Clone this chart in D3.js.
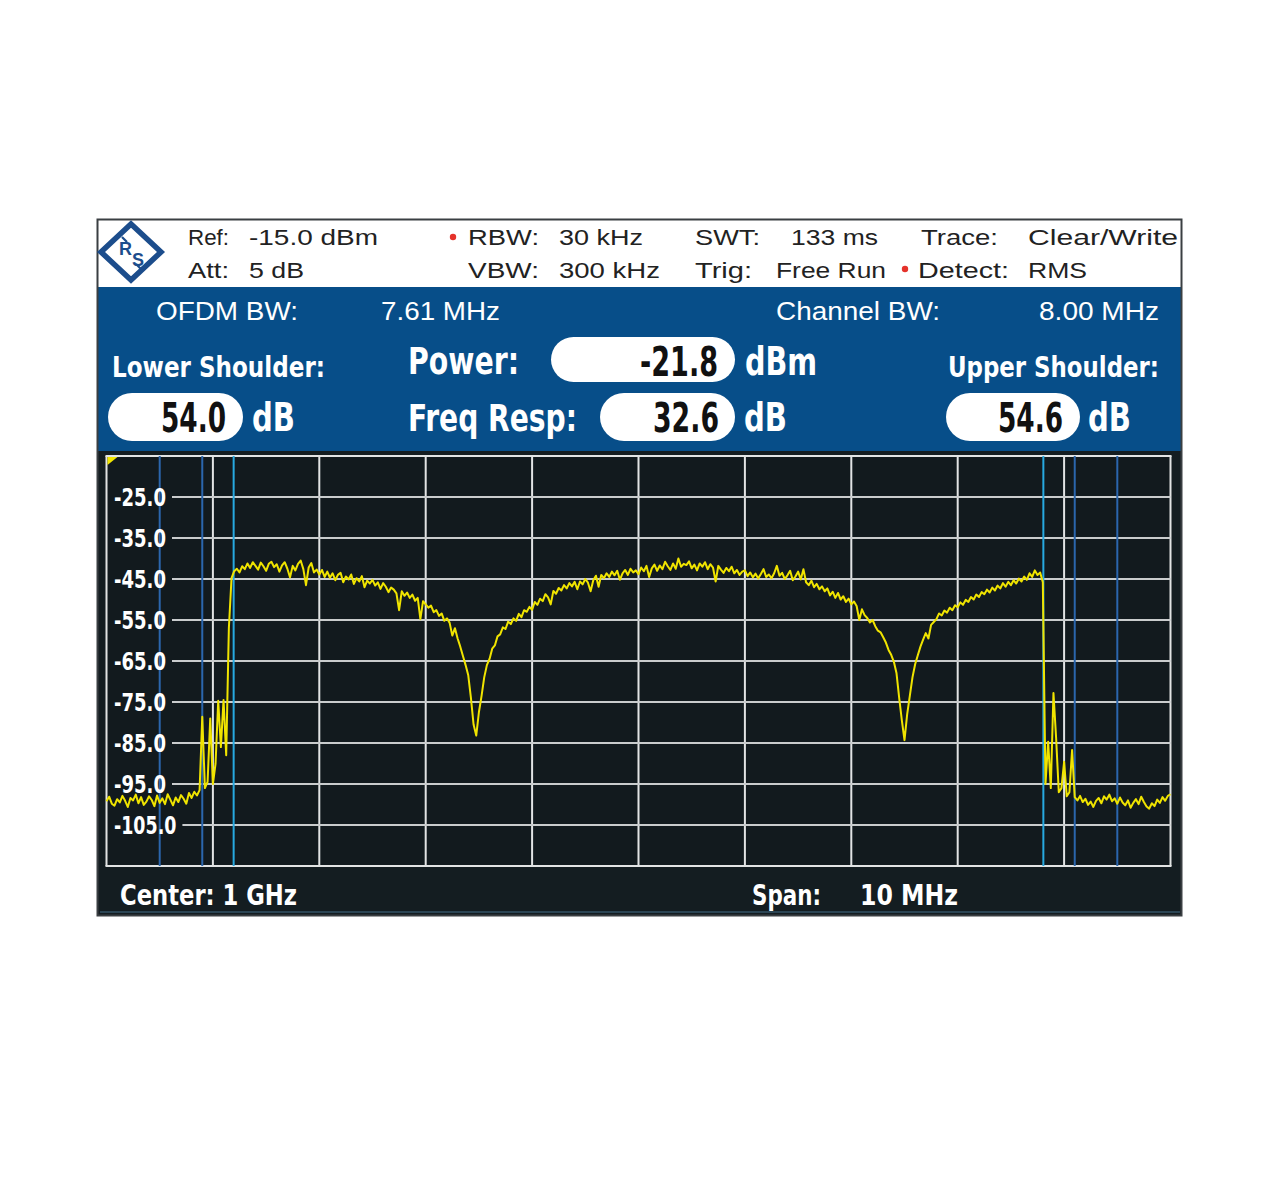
<!DOCTYPE html>
<html><head><meta charset="utf-8">
<script src="https://cdn.jsdelivr.net/npm/d3@7"></script>
<style>html,body{margin:0;padding:0;background:#fff;} svg{display:block;}</style>
</head><body>
<svg id="c" width="1280" height="1190"></svg>
<script>
// ---------------- data ----------------
const headerRow1 = ["Ref:", "-15.0 dBm", "RBW:", "30 kHz", "SWT:", "133 ms", "Trace:", "Clear/Write"];
const headerRow2 = ["Att:", "5 dB", "VBW:", "300 kHz", "Trig:", "Free Run", "Detect:", "RMS"];
const infoLabels = ["OFDM BW:", "7.61 MHz", "Channel BW:", "8.00 MHz"];
const resultLabels = ["Lower Shoulder:", "Power:", "Freq Resp:", "Upper Shoulder:"];
const resultValues = [54.0, -21.8, 32.6, 54.6];
const resultUnits = ["dB", "dBm", "dB", "dB"];
const footerLabels = ["Center: 1 GHz", "Span:", "10 MHz"];
const yTicks = [-25, -35, -45, -55, -65, -75, -85, -95, -105];
const yRange = [-115, -15];
const xDivisionsMHz = [-5, -4, -3, -2, -1, 0, 1, 2, 3, 4, 5];
const markerOffsetsMHz = [-4.5, -4.1, -3.805, 3.805, 4.1, 4.5];
const markerKinds = ["limit", "limit", "channel", "channel", "limit", "limit"];
const traceStartMHz = -5, traceStopMHz = 5;
const traceLevels = [
 -99.2,-98.1,-99.8,-100.3,-98.7,-99.5,-97.9,-99.1,-100.6,-98.4,
 -99.0,-97.6,-99.7,-98.2,-100.1,-99.3,-98.0,-98.9,-100.4,-97.8,
 -99.6,-98.5,-99.9,-97.5,-98.8,-100.2,-98.3,-99.4,-97.7,-98.6,
 -99.8,-97.2,-98.4,-96.9,-97.8,
 -96.5,-78.6,-96.0,-94.5,-79.0,-95.0,-90.0,-74.7,-86.0,-74.5,-88.0,-57.0,
 -44.8,-43.1,-42.5,-43.4,-41.9,-42.6,-41.2,-42.3,-40.9,-41.8,
 -42.7,-41.0,-41.9,-43.0,-41.3,-40.8,-42.1,-41.4,-43.2,-41.7,
 -40.9,-42.5,-44.6,-41.8,-42.9,-41.3,-40.5,-42.6,-46.5,-42.2,
 -41.1,-43.4,-42.7,-43.9,-42.8,-44.5,-43.2,-44.7,-43.6,-45.3,
 -44.0,-43.5,-45.8,-44.4,-45.1,-43.9,-46.2,-44.8,-45.6,-44.3,
 -47.0,-45.4,-46.1,
 -45.2,-46.6,-45.8,-47.4,-46.0,-46.9,-48.2,-47.1,-47.6,-48.5,
 -52.6,-48.0,-49.1,-48.3,-49.6,-48.8,-50.3,-49.6,-54.8,-50.4,
 -51.2,-52.0,-51.5,-53.1,-52.6,-54.0,-53.4,-55.2,-54.6,-55.7,
 -58.8,-57.0,-59.5,-61.5,-63.8,-66.0,-68.5,-74.0,-80.5,-83.2,
 -77.5,-73.5,-69.0,-66.0,-64.5,-62.0,-61.2,-59.0,-58.5,-56.8,
 -57.2,-55.4,-56.0,-54.6,-55.2,-53.5,-54.3,-52.6,-53.0,-51.8,
 -52.5,-50.6,-51.3,-49.8,-50.4,-48.7,-49.5,-51.2,-47.9,-48.6,
 -47.2,-47.8,-46.5,-47.3,-46.0,-46.8,-45.7,-47.5,-45.6,-46.3,
 -45.0,-45.9,-48.0,-45.3,-44.2,-46.9,-44.0,-44.8,-43.6,-44.5,
 -43.2,-44.1,-43.0,-45.2,-43.6,-42.8,-44.0,-42.5,-43.4,-42.9,
 -43.8,-42.2,-43.1,-41.8,-44.5,-42.4,-41.5,-43.0,-41.7,-42.6,
 -40.8,-41.9,-42.8,-41.2,-42.5,-40.0,-42.0,-41.3,-41.6,-40.7,
 -42.4,-41.5,-42.9,-41.2,-42.0,-40.9,-42.6,-41.4,-42.2,-45.6,
 -41.8,-42.7,-43.5,-42.3,-43.1,-42.0,-43.6,-42.8,-44.0,-43.2,
 -42.9,-44.3,-43.4,-44.6,-43.7,-44.9,-43.8,-42.6,-44.5,-43.9,
 -44.8,-43.6,-41.8,-44.2,-43.5,-45.0,-44.1,-43.0,-45.3,-44.4,
 -43.2,-45.1,-42.6,-45.8,-46.5,-45.4,-47.0,-46.2,-47.5,-46.8,
 -48.0,-47.3,-49.0,-48.1,-49.6,-48.4,-50.0,-49.2,-50.6,-49.8,
 -51.2,-50.5,-51.6,-55.0,-52.4,-53.8,-54.5,-55.6,-55.0,-56.5,
 -57.6,-58.0,-59.2,-60.5,-62.3,-63.5,-65.2,-68.0,-74.0,-79.5,
 -84.3,-78.0,-73.5,-69.0,-65.8,-63.6,-61.5,-59.8,-58.2,-59.5,
 -56.2,-55.5,-54.8,-53.4,-53.9,-52.7,-53.2,-52.0,-52.6,-51.4,
 -51.9,-50.7,-51.3,-50.1,-50.6,-49.4,-50.0,-48.8,-49.4,-48.2,
 -48.7,-47.6,-48.3,-47.1,-47.8,-46.6,-47.3,-46.0,-46.9,-45.7,
 -46.5,-45.3,-46.1,-44.9,-45.6,-44.4,-45.2,-43.6,-44.5,-42.9,
 -44.0,-43.4,-45.8,
 -95.0,-84.7,-96.0,-72.8,-83.8,-97.0,-96.0,-89.6,-98.0,-97.0,-86.7,
 -98.2,-99.0,-97.9,-99.4,-98.6,-100.1,-99.3,-100.6,-99.1,-98.4,
 -99.7,-98.0,-98.8,-97.6,-99.2,-98.5,-99.8,-98.3,-99.5,-100.2,
 -99.0,-100.8,-99.6,-98.7,-99.9,-98.1,-99.4,-100.5,-101.0,-99.7,
 -100.4,-98.8,-99.6,-98.2,-99.1,-97.9,-97.5
];

// ---------------- layout ----------------
const REG = "'Liberation Sans', Arial, Helvetica, sans-serif";
const NARROW = "'Liberation Sans Narrow', 'Arial Narrow', 'DejaVu Sans Condensed', 'Liberation Sans', sans-serif";
const BLUE = "#074e89", DARK = "#141d21";
const svg = d3.select("#c");

function T(g, x, y, s, o) {
  const t = g.append("text").attr("x", x).attr("y", y).text(s)
    .attr("font-family", o.family || REG).attr("font-size", o.size)
    .attr("font-weight", o.weight || 400).attr("fill", o.fill || "#222")
    .attr("text-anchor", "start");
  if (o.len) t.attr("textLength", o.len).attr("lengthAdjust", "spacingAndGlyphs");
  return t;
}

// instrument frame
svg.append("rect").attr("x", 97).attr("y", 219).attr("width", 1085).attr("height", 697).attr("fill", DARK);
svg.append("rect").attr("x", 98).attr("y", 220).attr("width", 1083).attr("height", 67).attr("fill", "#fff");
svg.append("rect").attr("x", 98).attr("y", 287).attr("width", 1083).attr("height", 164).attr("fill", BLUE);
svg.append("rect").attr("x", 97.5).attr("y", 219.5).attr("width", 1084).attr("height", 696).attr("fill", "none")
  .attr("stroke", "#3a3f42").attr("stroke-width", 2);
svg.append("line").attr("x1", 100).attr("x2", 1180).attr("y1", 912).attr("y2", 912).attr("stroke", "#2c4554").attr("stroke-width", 2);

// logo
const LOGO = "#1c4d8c";
const logo = svg.append("g").attr("transform", "translate(131,252)");
logo.append("path").attr("d", "M0,-28 L30,0 L0,28 L-30,0 Z").attr("fill", "none").attr("stroke", LOGO).attr("stroke-width", 5.5).attr("stroke-linejoin", "miter");
logo.append("line").attr("x1", -9).attr("y1", -15).attr("x2", -4).attr("y2", -10).attr("stroke", LOGO).attr("stroke-width", 2.2);
logo.append("line").attr("x1", 5).attr("y1", 12).attr("x2", 10).attr("y2", 17).attr("stroke", LOGO).attr("stroke-width", 2.2);
T(logo, -12, 3, "R", {size: 18, fill: LOGO, weight: 700});
T(logo, 1, 14, "S", {size: 18, fill: LOGO, weight: 700});

// header
const hg = svg.append("g");
const h1x = [[188, 41], [249, 129], [468, 71], [559, 84], [695, 65], [791, 87], [921, 77], [1028, 150]];
const h2x = [[188, 41], [249, 55], [468, 71], [559, 101], [695, 57], [776, 110], [918, 91], [1028, 59]];
headerRow1.forEach((s, i) => T(hg, h1x[i][0], 245, s, {size: 22, len: h1x[i][1]}));
headerRow2.forEach((s, i) => T(hg, h2x[i][0], 278, s, {size: 22, len: h2x[i][1]}));
hg.append("circle").attr("cx", 453).attr("cy", 237).attr("r", 3.2).attr("fill", "#e5322b");
hg.append("circle").attr("cx", 905).attr("cy", 269).attr("r", 3.2).attr("fill", "#e5322b");

// blue panel
const bg = svg.append("g");
const infoX = [[156, 142], [381, 119], [776, 164], [1039, 120]];
infoLabels.forEach((s, i) => T(bg, infoX[i][0], 320, s, {size: 26, fill: "#fff", len: infoX[i][1]}));
T(bg, 112, 377, resultLabels[0], {family: NARROW, size: 29, weight: 700, fill: "#fff", len: 213});
T(bg, 408, 374, resultLabels[1], {family: NARROW, size: 38, weight: 700, fill: "#fff", len: 111});
T(bg, 408, 431, resultLabels[2], {family: NARROW, size: 38, weight: 700, fill: "#fff", len: 169});
T(bg, 948, 377, resultLabels[3], {family: NARROW, size: 29, weight: 700, fill: "#fff", len: 211});
// pills: [x, y, w, h, valueEnd, baseline, valueLen, unitX, unitLen]
const pills = [
  [108, 393, 135, 48, 226, 432, 65, 252, 43],
  [551, 337, 184, 45, 718, 376, 78, 745, 72],
  [600, 393, 135, 48, 719, 432, 66, 744, 43],
  [946, 393, 134, 48, 1063, 432, 65, 1088, 43]
];
pills.forEach((p, i) => {
  bg.append("rect").attr("x", p[0]).attr("y", p[1]).attr("width", p[2]).attr("height", p[3])
    .attr("rx", p[3] / 2).attr("ry", p[3] / 2).attr("fill", "#fff");
  const v = d3.format(".1f")(resultValues[i]).replace("\u2212", "-");
  T(bg, p[4] - p[6], p[5], v, {family: NARROW, size: 40, weight: 700, fill: "#111", len: p[6]});
  T(bg, p[7], p[5] - 1, resultUnits[i], {family: NARROW, size: 39, weight: 700, fill: "#fff", len: p[8]});
});

// plot
const x = d3.scaleLinear().domain([xDivisionsMHz[0], xDivisionsMHz[xDivisionsMHz.length - 1]]).range([106.5, 1170.5]);
const y = d3.scaleLinear().domain(yRange).range([866, 456]);
const pg = svg.append("g");
pg.append("rect").attr("x", x.range()[0]).attr("y", y.range()[1]).attr("width", x.range()[1] - x.range()[0])
  .attr("height", y.range()[0] - y.range()[1]).attr("fill", "#121a1e");
pg.selectAll("line.vg").data(xDivisionsMHz).join("line").attr("class", "vg")
  .attr("x1", d => x(d)).attr("x2", d => x(d)).attr("y1", y.range()[1]).attr("y2", y.range()[0])
  .attr("stroke", "#e2e4e4").attr("stroke-width", 2);
pg.selectAll("line.fr").data(yRange).join("line").attr("class", "fr")
  .attr("x1", x.range()[0] - 1).attr("x2", x.range()[1] + 1).attr("y1", d => y(d)).attr("y2", d => y(d))
  .attr("stroke", "#e2e4e4").attr("stroke-width", 2);
const lg = svg.append("g");
const hgrid = pg.append("g");
yTicks.forEach(v => {
  const s = d3.format(".1f")(v).replace("\u2212", "-");
  const len = 10.4 * s.length;
  T(lg, 114, y(v) + 8.5, s, {family: NARROW, size: 24, weight: 700, fill: "#fff", len: len});
  hgrid.append("line").attr("x1", 114 + len + 6).attr("x2", x.range()[1]).attr("y1", y(v)).attr("y2", y(v))
    .attr("stroke", "#c9cccd").attr("stroke-width", 2);
});
pg.selectAll("line.mk").data(markerOffsetsMHz).join("line").attr("class", "mk")
  .attr("x1", d => x(d)).attr("x2", d => x(d)).attr("y1", y.range()[1]).attr("y2", y.range()[0])
  .attr("stroke", (d, i) => markerKinds[i] === "channel" ? "#27a9e0" : "#2b66ad").attr("stroke-width", 2);
pg.append("path").attr("d", `M${x.range()[0] + 1},${y.range()[1] + 1} l10,0 l-10,8 Z`).attr("fill", "#f2e600");
const step = (traceStopMHz - traceStartMHz) / (traceLevels.length - 1);
const line = d3.line().x((d, i) => x(traceStartMHz + i * step)).y(d => y(d));
svg.append("path").datum(traceLevels).attr("d", line).attr("fill", "none")
  .attr("stroke", "#f0e400").attr("stroke-width", 2).attr("stroke-linejoin", "round");

// footer
const fg = svg.append("g");
T(fg, 120, 905, footerLabels[0], {family: NARROW, size: 29, weight: 700, fill: "#fff", len: 177});
T(fg, 752, 905, footerLabels[1], {family: NARROW, size: 29, weight: 700, fill: "#fff", len: 69});
T(fg, 860, 905, footerLabels[2], {family: NARROW, size: 29, weight: 700, fill: "#fff", len: 98});
</script>
</body></html>
